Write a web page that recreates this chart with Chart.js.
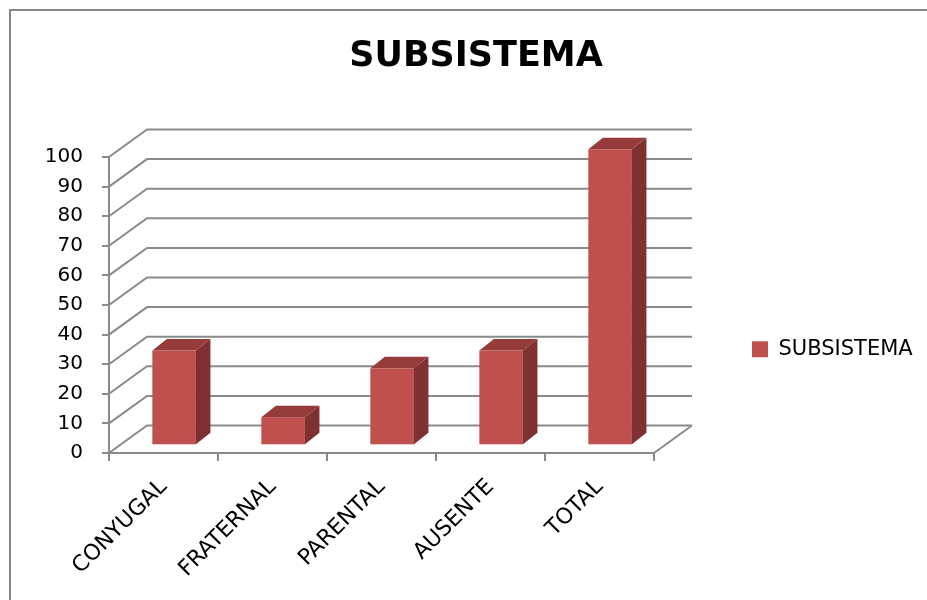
<!DOCTYPE html>
<html><head><meta charset="utf-8">
<script src="https://cdn.jsdelivr.net/npm/chart.js@4/dist/chart.umd.min.js"></script>
<style>html,body{margin:0;padding:0;background:#fff}</style>
</head><body>
<canvas id="c" width="927" height="600"></canvas>
<script>
// ---- data ----
const CATEGORIES = ['CONYUGAL', 'FRATERNAL', 'PARENTAL', 'AUSENTE', 'TOTAL'];
const VALUES = [32, 9.5, 26, 32, 100];
const SERIES_NAME = 'SUBSISTEMA';
const TITLE = 'SUBSISTEMA';
const Y_MIN = 0, Y_MAX = 100, Y_STEP = 10;

// ---- style ----
const FONT = '"DejaVu Sans"';
const GRID = '#8a8a8a';
const FRONT = '#C0504D', SIDE = '#7E3130', TOP = '#953B39';
const DEPTH = {dx: 38, dy: -27.5};      // wall depth
const BAR_FRONT = 0.28;                  // bar front plane as fraction of depth
const BAR_DEPTH = {dx: 14.5, dy: -11.5}; // bar depth
const PLOT_LEFT = 109, PLOT_RIGHT = 654, PLOT_BOTTOM = 453;
const TITLE_CENTER = 476;
const LEGEND_PAD = 98, LEGEND_FONT = 21, LEGEND_BOX = 16;

// layout helpers: right padding so the plot ends at PLOT_RIGHT
const mctx = document.createElement('canvas').getContext('2d');
mctx.font = `normal ${LEGEND_FONT}px ${FONT}`;
const legendW = LEGEND_PAD + LEGEND_BOX + LEGEND_FONT / 2 + mctx.measureText(SERIES_NAME).width + 10;
const RIGHT_PAD = Math.max(0, 927 - PLOT_RIGHT - legendW);
const LEFT_PAD = Math.max(0, 2 * TITLE_CENTER - 927 + RIGHT_PAD);

const threeD = {
  id: 'threeD',
  beforeDraw(chart) {
    const ctx = chart.ctx;
    ctx.save();
    ctx.strokeStyle = '#868686';
    ctx.lineWidth = 2;
    ctx.lineCap = 'butt';
    ctx.beginPath();
    ctx.moveTo(10, 600); ctx.lineTo(10, 10); ctx.lineTo(927, 10);
    ctx.stroke();
    ctx.restore();
  },
  beforeDatasetsDraw(chart) {
    const {ctx, chartArea: {left, right}, scales: {y}} = chart;
    ctx.save();
    ctx.strokeStyle = GRID;
    ctx.lineWidth = 2;
    y.ticks.forEach(t => {
      const yf = y.getPixelForValue(t.value);
      ctx.beginPath();
      ctx.moveTo(left, yf);
      ctx.lineTo(left + DEPTH.dx, yf + DEPTH.dy);
      ctx.lineTo(right + DEPTH.dx, yf + DEPTH.dy);
      ctx.stroke();
    });
    const y0 = y.getPixelForValue(Y_MIN);
    ctx.beginPath();
    ctx.moveTo(right, y0);
    ctx.lineTo(right + DEPTH.dx, y0 + DEPTH.dy);
    ctx.stroke();
    ctx.restore();
  },
  beforeDatasetDraw() { return false; },
  afterDatasetsDraw(chart) {
    const ctx = chart.ctx;
    const ox = DEPTH.dx * BAR_FRONT, oy = DEPTH.dy * BAR_FRONT;
    chart.getDatasetMeta(0).data.forEach(bar => {
      const {x, y, base, width} = bar.getProps(['x', 'y', 'base', 'width'], true);
      const xl = x - width / 2 + ox, xr = x + width / 2 + ox;
      const yt = y + oy, yb = base + oy;
      ctx.save();
      ctx.fillStyle = FRONT;
      ctx.fillRect(xl, yt, xr - xl, yb - yt);
      ctx.fillStyle = SIDE;
      ctx.beginPath();
      ctx.moveTo(xr, yt); ctx.lineTo(xr + BAR_DEPTH.dx, yt + BAR_DEPTH.dy);
      ctx.lineTo(xr + BAR_DEPTH.dx, yb + BAR_DEPTH.dy); ctx.lineTo(xr, yb);
      ctx.closePath(); ctx.fill();
      ctx.fillStyle = TOP;
      ctx.beginPath();
      ctx.moveTo(xl, yt); ctx.lineTo(xl + BAR_DEPTH.dx, yt + BAR_DEPTH.dy);
      ctx.lineTo(xr + BAR_DEPTH.dx, yt + BAR_DEPTH.dy); ctx.lineTo(xr, yt);
      ctx.closePath(); ctx.fill();
      ctx.restore();
    });
  }
};

new Chart(document.getElementById('c'), {
  type: 'bar',
  data: {
    labels: CATEGORIES,
    datasets: [{
      label: SERIES_NAME,
      data: VALUES,
      backgroundColor: FRONT,
      categoryPercentage: 1,
      barPercentage: 0.4
    }]
  },
  options: {
    responsive: false,
    animation: false,
    devicePixelRatio: 1,
    layout: {padding: {left: LEFT_PAD, right: RIGHT_PAD, top: 0, bottom: 0}},
    plugins: {
      title: {
        display: true, text: TITLE, color: '#000',
        font: {family: FONT, size: 35, weight: 'bold'},
        padding: {top: 36, bottom: 79}
      },
      legend: {
        position: 'right', align: 'center', maxWidth: 600,
        labels: {
          boxWidth: LEGEND_BOX, boxHeight: LEGEND_BOX, padding: LEGEND_PAD,
          color: '#000', font: {family: FONT, size: LEGEND_FONT}
        },
        title: {display: true, text: ' ', padding: {top: 84, bottom: 0}, font: {size: 12}}
      },
      tooltip: {enabled: false}
    },
    scales: {
      x: {
        grid: {offset: true, drawOnChartArea: false, tickLength: 8, color: GRID, lineWidth: 2},
        border: {display: true, color: GRID, width: 2},
        ticks: {maxRotation: 45, minRotation: 45, color: '#000', font: {family: FONT, size: 22}, padding: 13},
        afterFit(s) { s.height = 600 - PLOT_BOTTOM; }
      },
      y: {
        min: Y_MIN, max: Y_MAX,
        ticks: {stepSize: Y_STEP, color: '#000', font: {family: FONT, size: 20}, padding: 19},
        grid: {drawOnChartArea: false, tickLength: 7, color: GRID, lineWidth: 2},
        border: {display: true, color: GRID, width: 2},
        afterFit(s) { s.width = PLOT_LEFT - LEFT_PAD; }
      }
    }
  },
  plugins: [threeD]
});
</script>
</body></html>
